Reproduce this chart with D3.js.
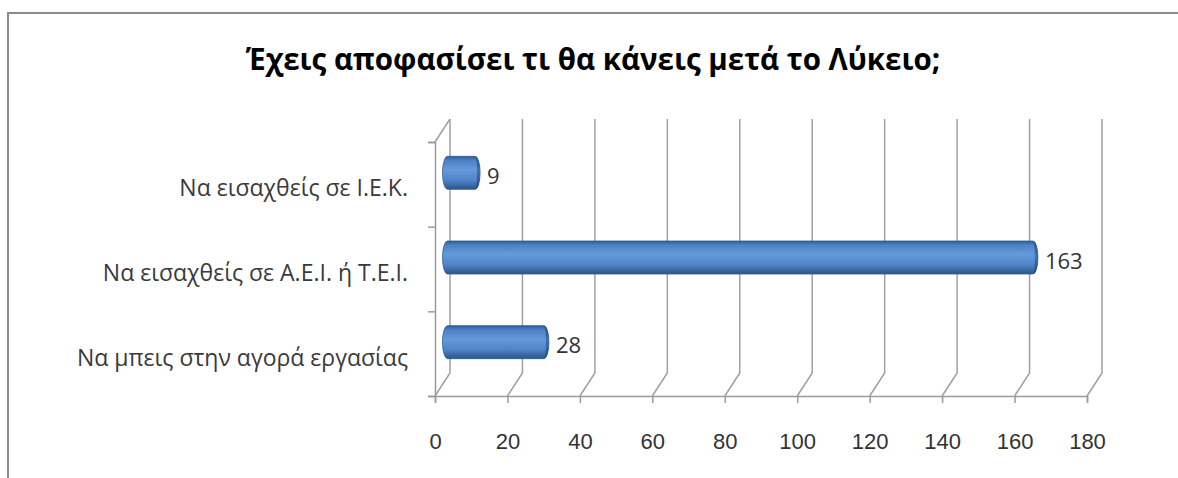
<!DOCTYPE html>
<html>
<head>
<meta charset="utf-8">
<script src="https://cdn.jsdelivr.net/npm/d3@7"></script>
<style>
  body { margin: 0; background: #fff; }
  svg { display: block; font-family: 'Open Sans', sans-serif; }
  .axis path, .axis line { stroke: #9a9a9a; stroke-width: 1.5; }
  .axis text { fill: #333; font-size: 22px; }
  .grid { fill: none; stroke: #a0a0a0; stroke-width: 1.5; }
</style>
</head>
<body>
<div id="chart"></div>
<script>
const title = 'Έχεις αποφασίσει τι θα κάνεις μετά το Λύκειο;';
const categories = [
  'Να εισαχθείς σε Ι.Ε.Κ.',
  'Να εισαχθείς σε Α.Ε.Ι. ή Τ.Ε.Ι.',
  'Να μπεις στην αγορά εργασίας'
];
const values = [9, 163, 28];
const xTicks = [0, 20, 40, 60, 80, 100, 120, 140, 160, 180];

const width = 1178;
const height = 478;
// floor front edge and wall geometry
const front = { left: 435, right: 1087, top: 142, bottom: 396 };
const depth = { dx: 15, dy: -23 };

const svg = d3
  .select('#chart')
  .append('svg')
  .attr('width', width)
  .attr('height', height);

// chart border (only top and left visible)
svg
  .append('path')
  .attr('d', `M8,${height} V13 H${width}`)
  .attr('fill', 'none')
  .attr('stroke', '#8a8a8a')
  .attr('stroke-width', 2);

svg
  .append('text')
  .attr('x', 593)
  .attr('y', 70)
  .attr('text-anchor', 'middle')
  .attr('font-size', 29.5)
  .attr('font-weight', 'bold')
  .attr('fill', '#000')
  .text(title);

const x = d3
  .scaleLinear()
  .domain([0, d3.max(xTicks)])
  .range([front.left, front.right]);

const y = d3
  .scaleBand()
  .domain(categories)
  .range([front.top, front.bottom]);

// back wall gridlines with floor diagonals
svg
  .append('g')
  .selectAll('path')
  .data(xTicks)
  .join('path')
  .attr('class', 'grid')
  .attr(
    'd',
    d =>
      `M${x(d)},${front.bottom} L${x(d) + depth.dx},${front.bottom + depth.dy} V${front.top + depth.dy}`
  );

// top of the side wall
svg
  .append('path')
  .attr('class', 'grid')
  .attr('d', `M${front.left},${front.top} L${front.left + depth.dx},${front.top + depth.dy}`);

// left axis: ticks at category boundaries
const yEdges = d3
  .scaleLinear()
  .domain([0, categories.length])
  .range([front.bottom, front.top]);

svg
  .append('g')
  .attr('class', 'axis')
  .attr('transform', `translate(${front.left},0)`)
  .call(
    d3
      .axisLeft(yEdges)
      .tickValues(d3.range(categories.length + 1))
      .tickSize(7)
      .tickFormat('')
  );

svg
  .append('g')
  .selectAll('text')
  .data(categories)
  .join('text')
  .attr('x', 408)
  .attr('y', d => y(d) + y.bandwidth() / 2 + 3)
  .attr('text-anchor', 'end')
  .attr('dominant-baseline', 'central')
  .attr('font-size', 23)
  .attr('fill', '#3a3a3a')
  .text(d => d);

svg
  .append('g')
  .attr('class', 'axis')
  .attr('transform', `translate(0,${front.bottom})`)
  .call(d3.axisBottom(x).tickValues(xTicks).tickSize(7).tickPadding(30));

// cylinder bars
const defs = svg.append('defs');
const grad = defs
  .append('linearGradient')
  .attr('id', 'barGrad')
  .attr('x1', 0)
  .attr('y1', 0)
  .attr('x2', 0)
  .attr('y2', 1);
[
  ['0%', '#2f5d96'],
  ['12%', '#4c80c2'],
  ['40%', '#6499dc'],
  ['72%', '#4f85c8'],
  ['100%', '#2a558a']
].forEach(([o, c]) => grad.append('stop').attr('offset', o).attr('stop-color', c));

const capGrad = defs
  .append('linearGradient')
  .attr('id', 'capGrad')
  .attr('x1', 0)
  .attr('y1', 0)
  .attr('x2', 0)
  .attr('y2', 1);
[
  ['0%', '#2a5288'],
  ['45%', '#3f70ae'],
  ['100%', '#234a7a']
].forEach(([o, c]) => capGrad.append('stop').attr('offset', o).attr('stop-color', c));

const barH = 33;
const rx = 5;
const midDx = depth.dx / 2;
const midDy = depth.dy / 2;

const bars = svg
  .append('g')
  .selectAll('g')
  .data(categories.map((c, i) => ({ c, v: values[i] })))
  .join('g');

bars
  .append('path')
  .attr('fill', 'url(#barGrad)')
  .attr('stroke', '#2f5a8e')
  .attr('stroke-width', 0.8)
  .attr('d', d => {
    const x0 = x(0) + midDx;
    const x1 = x(d.v) + midDx;
    const cy = y(d.c) + y.bandwidth() / 2 + midDy;
    const r = barH / 2;
    return `M${x0 + rx},${cy - r} H${x1} A${rx},${r} 0 0 1 ${x1},${cy + r} H${x0 + rx} A${rx},${r} 0 0 1 ${x0 + rx},${cy - r} Z`;
  });

bars
  .append('path')
  .attr('fill', 'url(#capGrad)')
  .attr('d', d => {
    const x1 = x(d.v) + midDx;
    const cy = y(d.c) + y.bandwidth() / 2 + midDy;
    const r = barH / 2;
    return `M${x1},${cy - r} A${rx},${r} 0 0 1 ${x1},${cy + r} A${rx * 0.4},${r} 0 0 0 ${x1},${cy - r} Z`;
  });

bars
  .append('text')
  .attr('x', d => x(d.v) + midDx + 12)
  .attr('y', d => y(d.c) + y.bandwidth() / 2 + midDy + 2)
  .attr('dominant-baseline', 'central')
  .attr('font-size', 22)
  .attr('fill', '#333')
  .text(d => d.v);
</script>
</body>
</html>
